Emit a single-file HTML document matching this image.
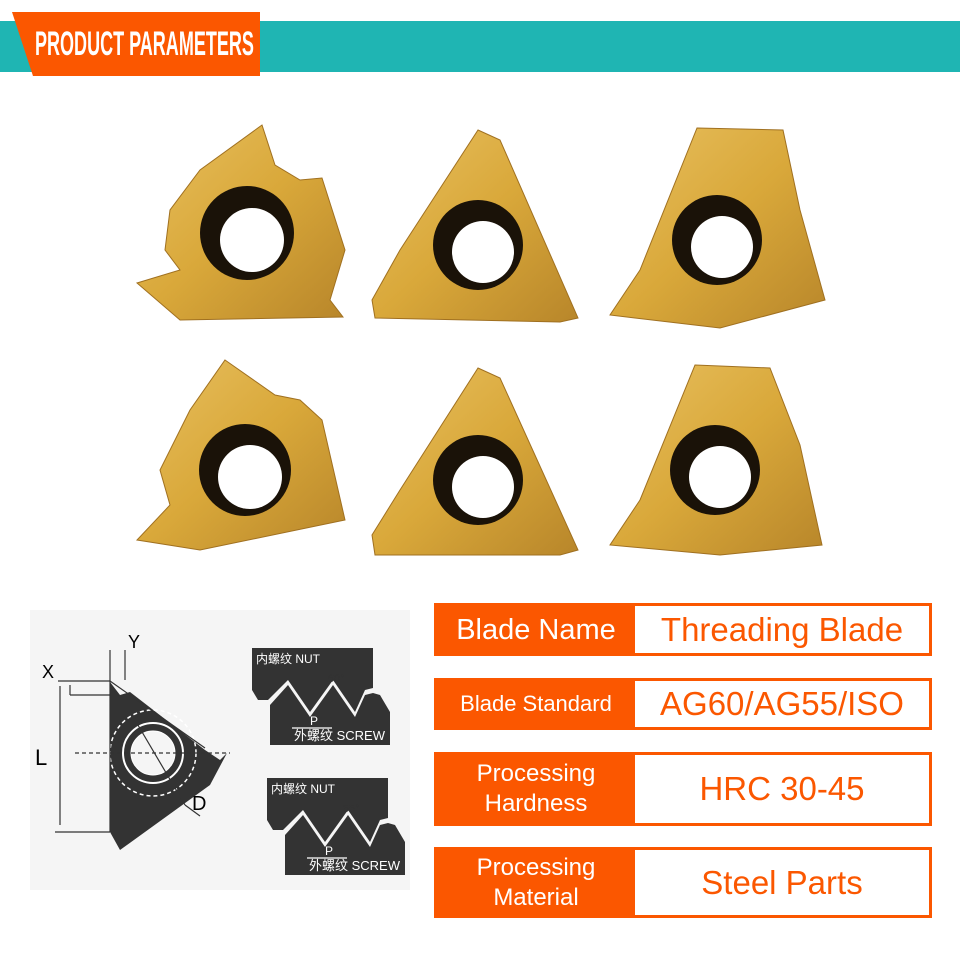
<!DOCTYPE html>
<html><head><meta charset="utf-8"><style>
body{margin:0;width:960px;height:960px;background:#fff;position:relative;overflow:hidden;font-family:"Liberation Sans","Noto Sans CJK SC",sans-serif}
.band{position:absolute;left:0;top:21px;width:960px;height:51px;background:#1fb5b3}
.ban{position:absolute;left:12px;top:12px;width:248px;height:64px;background:#fb5700;clip-path:polygon(0 0,100% 0,100% 100%,21px 100%);box-shadow:0 2px 3px rgba(0,0,0,.3)}
.bt{position:absolute;left:35px;top:26px;line-height:36px;color:#fff;font-weight:bold;font-size:34px;white-space:nowrap;transform:scaleX(0.53);transform-origin:left}
.row{position:absolute;left:434px;width:498px;box-sizing:border-box;border:3px solid #fb5700;background:#fff;display:flex}
.row .l{width:198px;background:#fb5700;color:#fff;display:flex;align-items:center;justify-content:center;text-align:center;line-height:30px}
.row .r{flex:1;color:#fb5700;display:flex;align-items:center;justify-content:center;font-size:33px}
</style></head><body>
<div class="band"></div><div class="ban"></div><div class="bt">PRODUCT PARAMETERS</div>
<svg width="960" height="600" style="position:absolute;left:0;top:0">
<defs><linearGradient id="g" x1="0" y1="0" x2="1" y2="1"><stop offset="0" stop-color="#e8c060"/><stop offset=".5" stop-color="#d9a83a"/><stop offset="1" stop-color="#b8862a"/></linearGradient></defs>
<g fill="url(#g)" stroke="#a07020" stroke-width="1">
<polygon points="262,125 275,165 300,180 322,178 345,250 330,300 343,317 180,320 137,283 180,270 165,250 170,210 200,170"/>
<polygon points="478,130 500,140 578,318 560,322 375,318 372,300 400,250"/>
<polygon points="697,128 783,130 800,210 825,300 720,328 610,315 640,270"/>
<polygon points="225,360 275,395 300,400 322,420 345,520 200,550 137,540 170,505 160,470 190,410"/>
<polygon points="478,368 500,378 578,550 560,555 375,555 372,535 400,490"/>
<polygon points="695,365 770,368 800,445 822,545 720,555 610,545 640,500"/>
</g>
<g fill="#1a1208"><circle cx="247" cy="233" r="47"/><circle cx="478" cy="245" r="45"/><circle cx="717" cy="240" r="45"/><circle cx="245" cy="470" r="46"/><circle cx="478" cy="480" r="45"/><circle cx="715" cy="470" r="45"/></g>
<g fill="#fff"><circle cx="252" cy="240" r="32"/><circle cx="483" cy="252" r="31"/><circle cx="722" cy="247" r="31"/><circle cx="250" cy="477" r="32"/><circle cx="483" cy="487" r="31"/><circle cx="720" cy="477" r="31"/></g>
</svg>
<svg width="400" height="300" style="position:absolute;left:20px;top:600px">
<rect x="10" y="10" width="380" height="280" fill="#f5f5f5"/>
<polygon points="90,82 100,95 110,92 185,150 200,160 207,153 190,185 100,250 90,232" fill="#333"/>
<circle cx="133" cy="153" r="43" fill="none" stroke="#fff" stroke-dasharray="4 3" stroke-width="1.5"/>
<circle cx="133" cy="153" r="30" fill="none" stroke="#fff" stroke-width="2"/>
<circle cx="133" cy="153" r="22" fill="#f5f5f5" stroke="#fff"/>
<g stroke="#333" fill="none" stroke-width="1.2"><line x1="90" y1="80" x2="90" y2="232"/><line x1="38" y1="81" x2="90" y2="81"/><line x1="50" y1="95" x2="90" y2="95"/><line x1="90" y1="81" x2="185" y2="148"/><line x1="35" y1="232" x2="90" y2="232"/><line x1="40" y1="86" x2="40" y2="225"/><line x1="50" y1="85" x2="50" y2="95"/><line x1="90" y1="50" x2="90" y2="80"/><line x1="105" y1="50" x2="105" y2="80"/><line x1="55" y1="153" x2="210" y2="153" stroke-dasharray="4 3"/><line x1="115" y1="120" x2="165" y2="205"/><line x1="165" y1="205" x2="180" y2="216"/></g>
<text x="15" y="165" font-size="22">L</text><text x="22" y="78" font-size="18">X</text><text x="108" y="48" font-size="18">Y</text><text x="172" y="210" font-size="20">D</text>
<g fill="#333">
<polygon points="232,48 353,48 353,88 345,90 335,112 313,80 290,112 268,80 248,100 238,100 232,90"/>
<polygon points="250,105 268,85 290,117 313,85 335,117 345,95 353,93 360,95 370,112 370,145 250,145"/>
<g transform="translate(15,130)">
<polygon points="232,48 353,48 353,88 345,90 335,112 313,80 290,112 268,80 248,100 238,100 232,90"/>
<polygon points="250,105 268,85 290,117 313,85 335,117 345,95 353,93 360,95 370,112 370,145 250,145"/>
</g></g>
<g fill="#fff" font-size="12"><text x="236" y="63">内螺纹 NUT</text><text x="274" y="140" font-size="13">外螺纹 SCREW</text><text x="251" y="193">内螺纹 NUT</text><text x="289" y="270" font-size="13">外螺纹 SCREW</text><text x="290" y="125">P</text><text x="305" y="255">P</text></g>
<g stroke="#fff" stroke-width="1.2"><line x1="272" y1="128" x2="312" y2="128"/><line x1="287" y1="258" x2="327" y2="258"/></g>
<text x="308" y="82" font-size="11" fill="#333">60°</text><text x="323" y="212" font-size="11" fill="#333">55°</text>
</svg>
<div class="row" style="top:603px;height:53px"><div class="l" style="font-size:29px">Blade Name</div><div class="r">Threading Blade</div></div>
<div class="row" style="top:678px;height:52px"><div class="l" style="font-size:22px">Blade Standard</div><div class="r">AG60/AG55/ISO</div></div>
<div class="row" style="top:752px;height:74px"><div class="l" style="font-size:24px">Processing<br>Hardness</div><div class="r">HRC 30-45</div></div>
<div class="row" style="top:847px;height:71px"><div class="l" style="font-size:24px">Processing<br>Material</div><div class="r">Steel Parts</div></div>
</body></html>
